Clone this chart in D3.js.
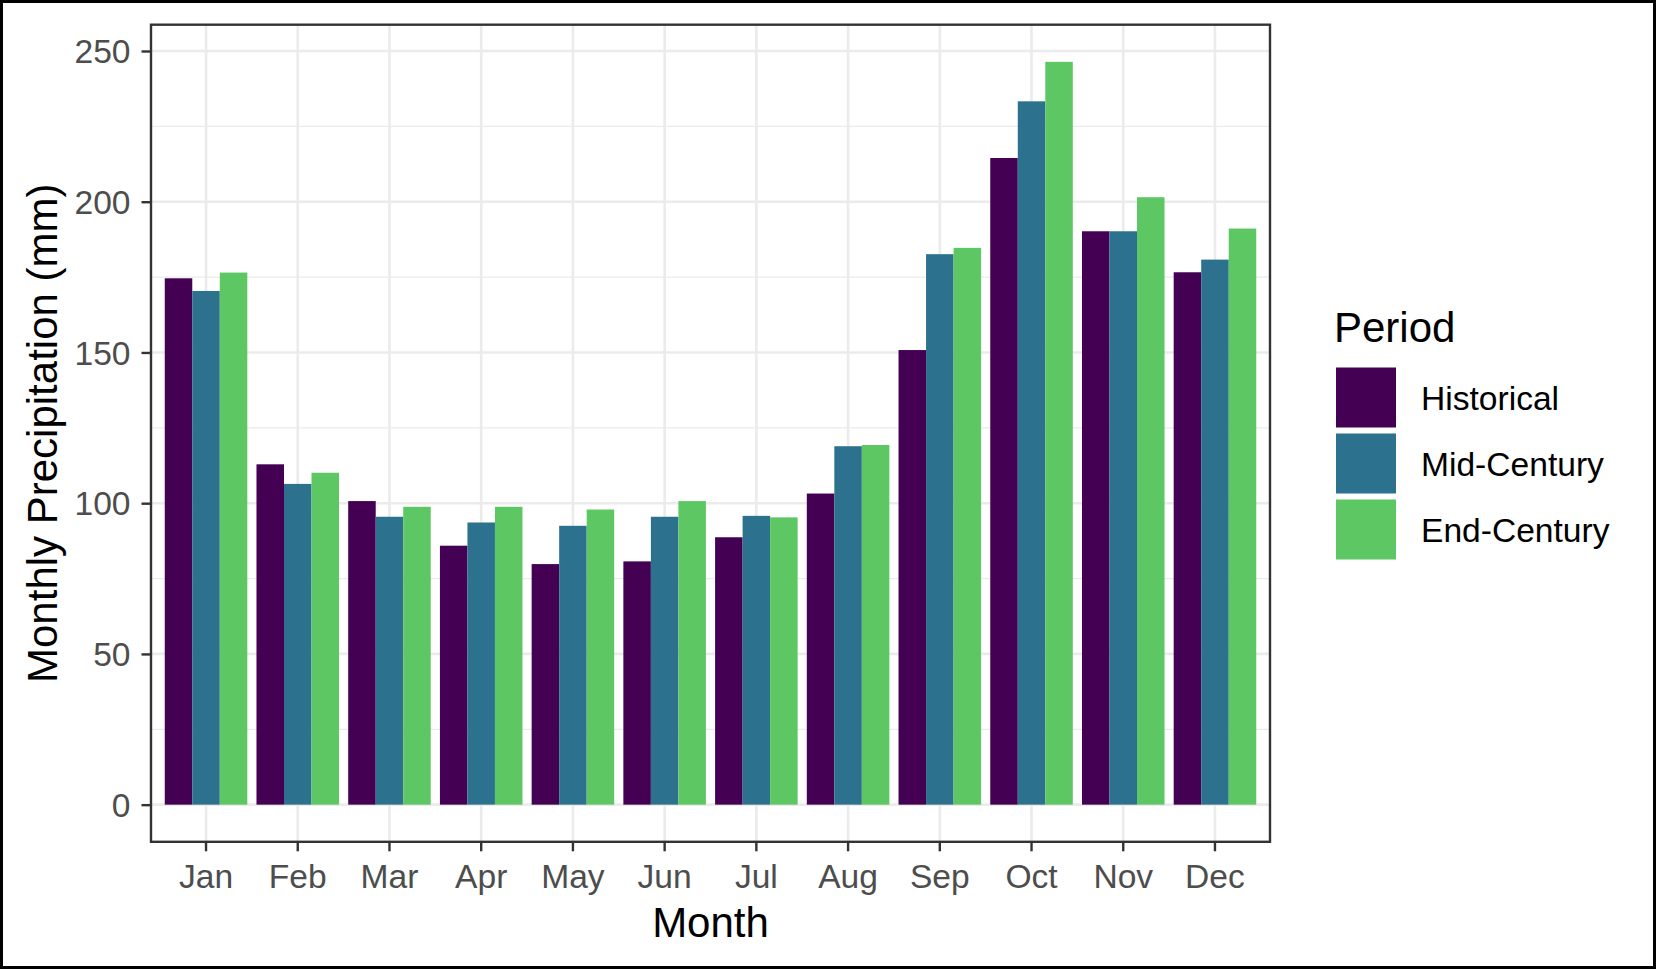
<!DOCTYPE html>
<html>
<head>
<meta charset="utf-8">
<script src="https://cdn.jsdelivr.net/npm/d3@7"></script>
<style>
  body { margin: 0; background: #fff; }
  text { font-family: "Liberation Sans", Arial, sans-serif; }
</style>
</head>
<body>
<div id="chart"></div>
<script>

// data
const months = ['Jan', 'Feb', 'Mar', 'Apr', 'May', 'Jun', 'Jul', 'Aug', 'Sep', 'Oct', 'Nov', 'Dec'];
const periods = ['Historical', 'Mid-Century', 'End-Century'];
const historical = [174.6, 112.9, 100.7, 85.9, 79.8, 80.7, 88.7, 103.2, 150.8, 214.5, 190.2, 176.6];
const midCentury = [170.4, 106.4, 95.5, 93.6, 92.5, 95.5, 95.8, 118.9, 182.6, 233.3, 190.2, 180.8];
const endCentury = [176.5, 110.1, 98.8, 98.8, 97.9, 100.7, 95.3, 119.3, 184.7, 246.4, 201.5, 191.1];
const yTicks = [0, 50, 100, 150, 200, 250];
const yMinor = [25, 75, 125, 175, 225];
const colors = ['#440154', '#2C728E', '#5DC863'];

const width = 1656, height = 969;
const panel = { left: 151, right: 1270, top: 24.7, bottom: 841.8 };
const textSize = 33.6, titleSize = 42;

const seriesByPeriod = [historical, midCentury, endCentury];
const rows = [];
months.forEach((m, i) => {
    periods.forEach((p, j) => {
        rows.push({ month: m, period: p, value: seriesByPeriod[j][i] });
    });
});

const svg = d3.select('#chart')
    .append('svg')
    .attr('width', width)
    .attr('height', height);

svg.append('rect')
    .attr('width', width)
    .attr('height', height)
    .attr('fill', '#fff');

// ggplot style 5% expansion on both ends
const maxVal = d3.max(rows, d => d.value);
const y = d3.scaleLinear()
    .domain([-0.05 * maxVal, maxVal * 1.05])
    .range([panel.bottom, panel.top]);

const x = d3.scaleBand()
    .domain(months)
    .range([panel.left, panel.right])
    .paddingInner(0.1)
    .paddingOuter(0.15);

const xInner = d3.scaleBand()
    .domain(periods)
    .range([0, x.bandwidth()]);

const color = d3.scaleOrdinal().domain(periods).range(colors);

// grid
const grid = svg.append('g');
grid.selectAll('.minor')
    .data(yMinor)
    .enter().append('line')
    .attr('x1', panel.left).attr('x2', panel.right)
    .attr('y1', d => y(d)).attr('y2', d => y(d))
    .attr('stroke', '#ebebeb')
    .attr('stroke-width', 1.3);
grid.selectAll('.major-y')
    .data(yTicks)
    .enter().append('line')
    .attr('x1', panel.left).attr('x2', panel.right)
    .attr('y1', d => y(d)).attr('y2', d => y(d))
    .attr('stroke', '#ebebeb')
    .attr('stroke-width', 2.6);
grid.selectAll('.major-x')
    .data(months)
    .enter().append('line')
    .attr('x1', d => x(d) + x.bandwidth() / 2).attr('x2', d => x(d) + x.bandwidth() / 2)
    .attr('y1', panel.top).attr('y2', panel.bottom)
    .attr('stroke', '#ebebeb')
    .attr('stroke-width', 2.6);

// bars
svg.append('g')
    .selectAll('rect')
    .data(rows)
    .enter().append('rect')
    .attr('x', d => x(d.month) + xInner(d.period))
    .attr('width', xInner.bandwidth())
    .attr('y', d => y(d.value))
    .attr('height', d => y(0) - y(d.value))
    .attr('fill', d => color(d.period));

// panel border
svg.append('rect')
    .attr('x', panel.left)
    .attr('y', panel.top)
    .attr('width', panel.right - panel.left)
    .attr('height', panel.bottom - panel.top)
    .attr('fill', 'none')
    .attr('stroke', '#333333')
    .attr('stroke-width', 2.4);

// axes
const yAxis = svg.append('g')
    .attr('transform', `translate(${panel.left},0)`)
    .call(d3.axisLeft(y).tickValues(yTicks).tickSize(9.5).tickPadding(11));
const xAxis = svg.append('g')
    .attr('transform', `translate(0,${panel.bottom})`)
    .call(d3.axisBottom(x).tickSize(9.5).tickPadding(13));

[yAxis, xAxis].forEach(ax => {
    ax.select('.domain').remove();
    ax.selectAll('.tick line').attr('stroke', '#333333').attr('stroke-width', 2.4);
    ax.selectAll('.tick text')
        .attr('fill', '#4d4d4d')
        .style('font-size', textSize + 'px')
        .style('font-family', '"Liberation Sans", Arial, sans-serif');
});
yAxis.selectAll('.tick text').attr('dy', '0.35em');
xAxis.selectAll('.tick text').attr('dy', '0.71em');

// axis titles
svg.append('text')
    .attr('x', (panel.left + panel.right) / 2)
    .attr('y', 937)
    .attr('text-anchor', 'middle')
    .style('font-size', titleSize + 'px')
    .text('Month');

svg.append('text')
    .attr('transform', `translate(57,${(panel.top + panel.bottom) / 2}) rotate(-90)`)
    .attr('text-anchor', 'middle')
    .style('font-size', titleSize + 'px')
    .text('Monthly Precipitation (mm)');

// legend
const legend = svg.append('g').attr('transform', 'translate(1336,0)');
legend.append('text')
    .attr('x', -2)
    .attr('y', 342)
    .style('font-size', titleSize + 'px')
    .text('Period');

const keys = legend.selectAll('.key')
    .data(periods)
    .enter().append('g')
    .attr('transform', (d, i) => `translate(0,${367.5 + i * 66})`);
keys.append('rect')
    .attr('width', 60)
    .attr('height', 60)
    .attr('fill', d => color(d));
keys.append('text')
    .attr('x', 85)
    .attr('y', 31)
    .attr('dy', '0.35em')
    .style('font-size', textSize + 'px')
    .text(d => d);

// outer frame
svg.append('rect')
    .attr('x', 1.5)
    .attr('y', 1.5)
    .attr('width', width - 3)
    .attr('height', height - 3)
    .attr('fill', 'none')
    .attr('stroke', '#000')
    .attr('stroke-width', 3);

</script>
</body>
</html>
